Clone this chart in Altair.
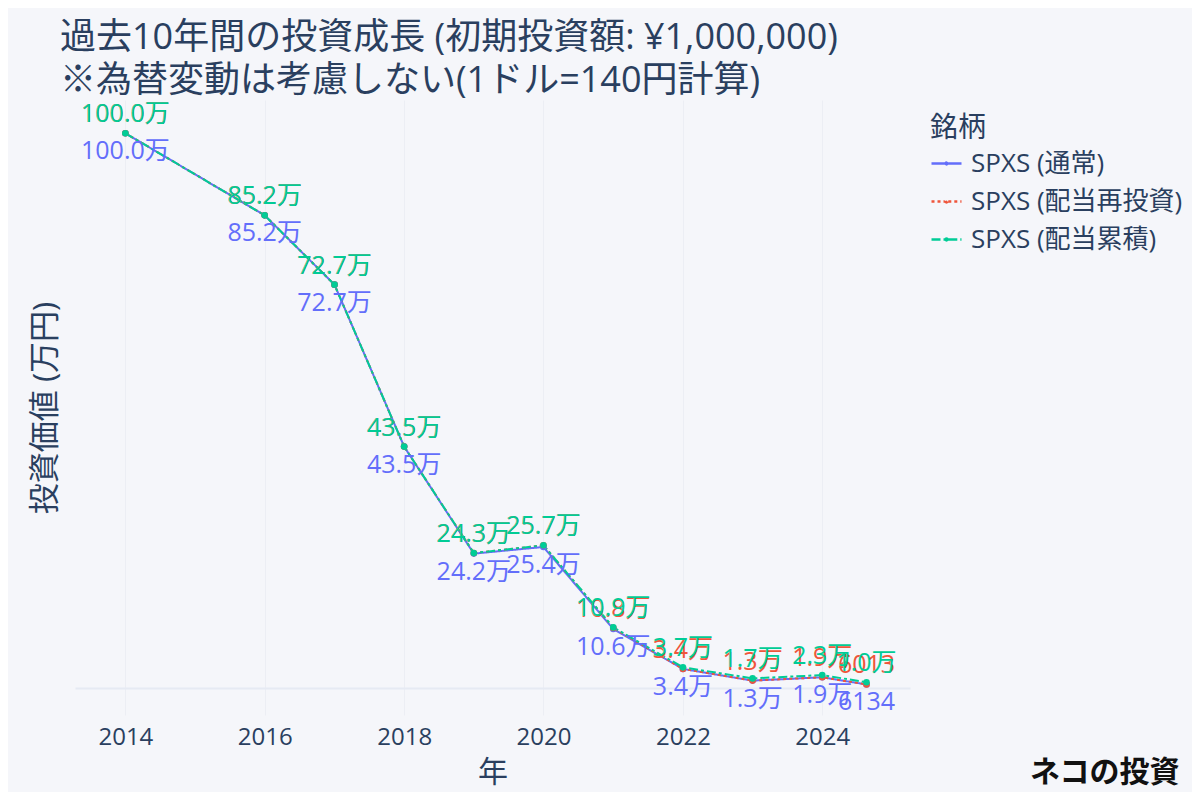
import altair as alt
import pandas as pd

dates = ["2014-01-01", "2016-01-01", "2017-01-01", "2018-01-01", "2019-01-01",
         "2020-01-01", "2021-01-01", "2022-01-01", "2023-01-01", "2024-01-01", "2024-08-20"]
normal = [100.0, 85.2, 72.7, 43.5, 24.2, 25.4, 10.6, 3.4, 1.3, 1.9, 0.6134]
reinvest = [100.0, 85.2, 72.7, 43.5, 24.3, 25.7, 10.8, 3.4, 1.3, 1.9, 0.6013]
accum = [100.0, 85.2, 72.7, 43.5, 24.3, 25.7, 10.9, 3.7, 1.7, 2.3, 1.0]
series = ["SPXS (通常)", "SPXS (配当再投資)", "SPXS (配当累積)"]
colors = ["#636EFA", "#EF553B", "#00CC96"]
dashes = [[1, 0], [3, 3], [9, 3, 3, 3]]

rows = []
for s, vals in zip(series, [normal, reinvest, accum]):
    for d, v in zip(dates, vals):
        rows.append({"date": d, "v": v, "s": s})
df = pd.DataFrame(rows)

BG = "#F5F6FA"
TXT = "#2A3F5F"
FONT = "Open Sans, Noto Sans CJK JP"

x = alt.X("date:T", title="年",
          scale=alt.Scale(domain=[alt.DateTime(year=2013, month=4, date=12),
                                  alt.DateTime(year=2025, month=4, date=5)]),
          axis=alt.Axis(values=[alt.DateTime(year=y, month=1, date=1) for y in range(2014, 2025, 2)],
                        format="%Y", grid=True, gridColor="#ECEEF4", ticks=False, domain=False,
                        labelFontSize=24, labelColor=TXT, labelPadding=10,
                        titleFontSize=30, titleColor=TXT, titleFontWeight="normal", titlePadding=8))
y = alt.Y("v:Q", title="投資価値 (万円)",
          scale=alt.Scale(domain=[-4.9, 106], nice=False, zero=False),
          axis=alt.Axis(values=[0], labels=False, ticks=False, domain=False, grid=True,
                        gridColor="#E6EAF3", gridWidth=2,
                        titleFontSize=31, titleColor=TXT, titleFontWeight="normal", titlePadding=14))
color = alt.Color("s:N", scale=alt.Scale(domain=series, range=colors),
                  legend=alt.Legend(title="銘柄", orient="none", legendX=855, legendY=15,
                                    titleFontSize=28, titleColor=TXT, titleFontWeight="normal",
                                    labelFontSize=26, labelColor=TXT, labelLimit=0,
                                    symbolType="M-1,0H-0.12M0.12,0H1M0.06,0A0.06,0.06,0,1,1,-0.06,0A0.06,0.06,0,1,1,0.06,0",
                                    symbolSize=900, symbolStrokeWidth=2.5,
                                    rowPadding=8, titlePadding=4, labelOffset=8))
dash = alt.StrokeDash("s:N", scale=alt.Scale(domain=series, range=dashes), legend=None)

base = alt.Chart(df).encode(x=x, y=y)
col_nl = alt.Color("s:N", scale=alt.Scale(domain=series, range=colors), legend=None)

lines = base.mark_line(strokeWidth=2).encode(color=color, strokeDash=dash)
points = base.mark_point(filled=True, size=44, opacity=1).encode(color=col_nl)

label_expr = "datum.v >= 1 ? format(datum.v, '.1f') + '万' : format(datum.v * 10000, 'd')"
below = base.transform_filter(alt.datum.s == series[0]).transform_calculate(
    lab=label_expr).mark_text(baseline="middle", dy=18, fontSize=25, font=FONT).encode(
    text="lab:N", color=col_nl)
above = base.transform_filter(alt.datum.s != series[0]).transform_calculate(
    lab=label_expr).mark_text(baseline="middle", dy=-19, fontSize=25, font=FONT).encode(
    text="lab:N", color=col_nl)

mark_df = pd.DataFrame({"t": ["ネコの投資"]})
watermark = alt.Chart(mark_df).mark_text(fontSize=30, fontWeight="bold", color="#111111",
                                         align="left", baseline="middle",
                                         font="Noto Sans CJK JP").encode(
    text="t:N", x=alt.value(955), y=alt.value(673))

chart = alt.layer(lines, points, below, above, watermark).properties(
    width=835, height=615,
    background=BG,
    view=alt.ViewBackground(stroke="transparent", strokeWidth=0, fill=BG),
    padding={"left": 67, "top": 92, "right": 282, "bottom": 77},
    autosize=alt.AutoSizeParams(type="none"),
    title=alt.TitleParams(text=["過去10年間の投資成長 (初期投資額: ¥1,000,000)",
                                "※為替変動は考慮しない(1ドル=140円計算)"],
                          anchor="start", frame="group", dx=-15, fontSize=36,
                          fontWeight="normal", color=TXT, lineHeight=43, offset=0,
                          font=FONT),
).configure_view(strokeWidth=0, stroke="transparent", fill=BG).configure_axis(
    domain=False, ticks=False).configure(font=FONT)

chart.save("out.html", embed_options={"renderer": "svg", "actions": False})
